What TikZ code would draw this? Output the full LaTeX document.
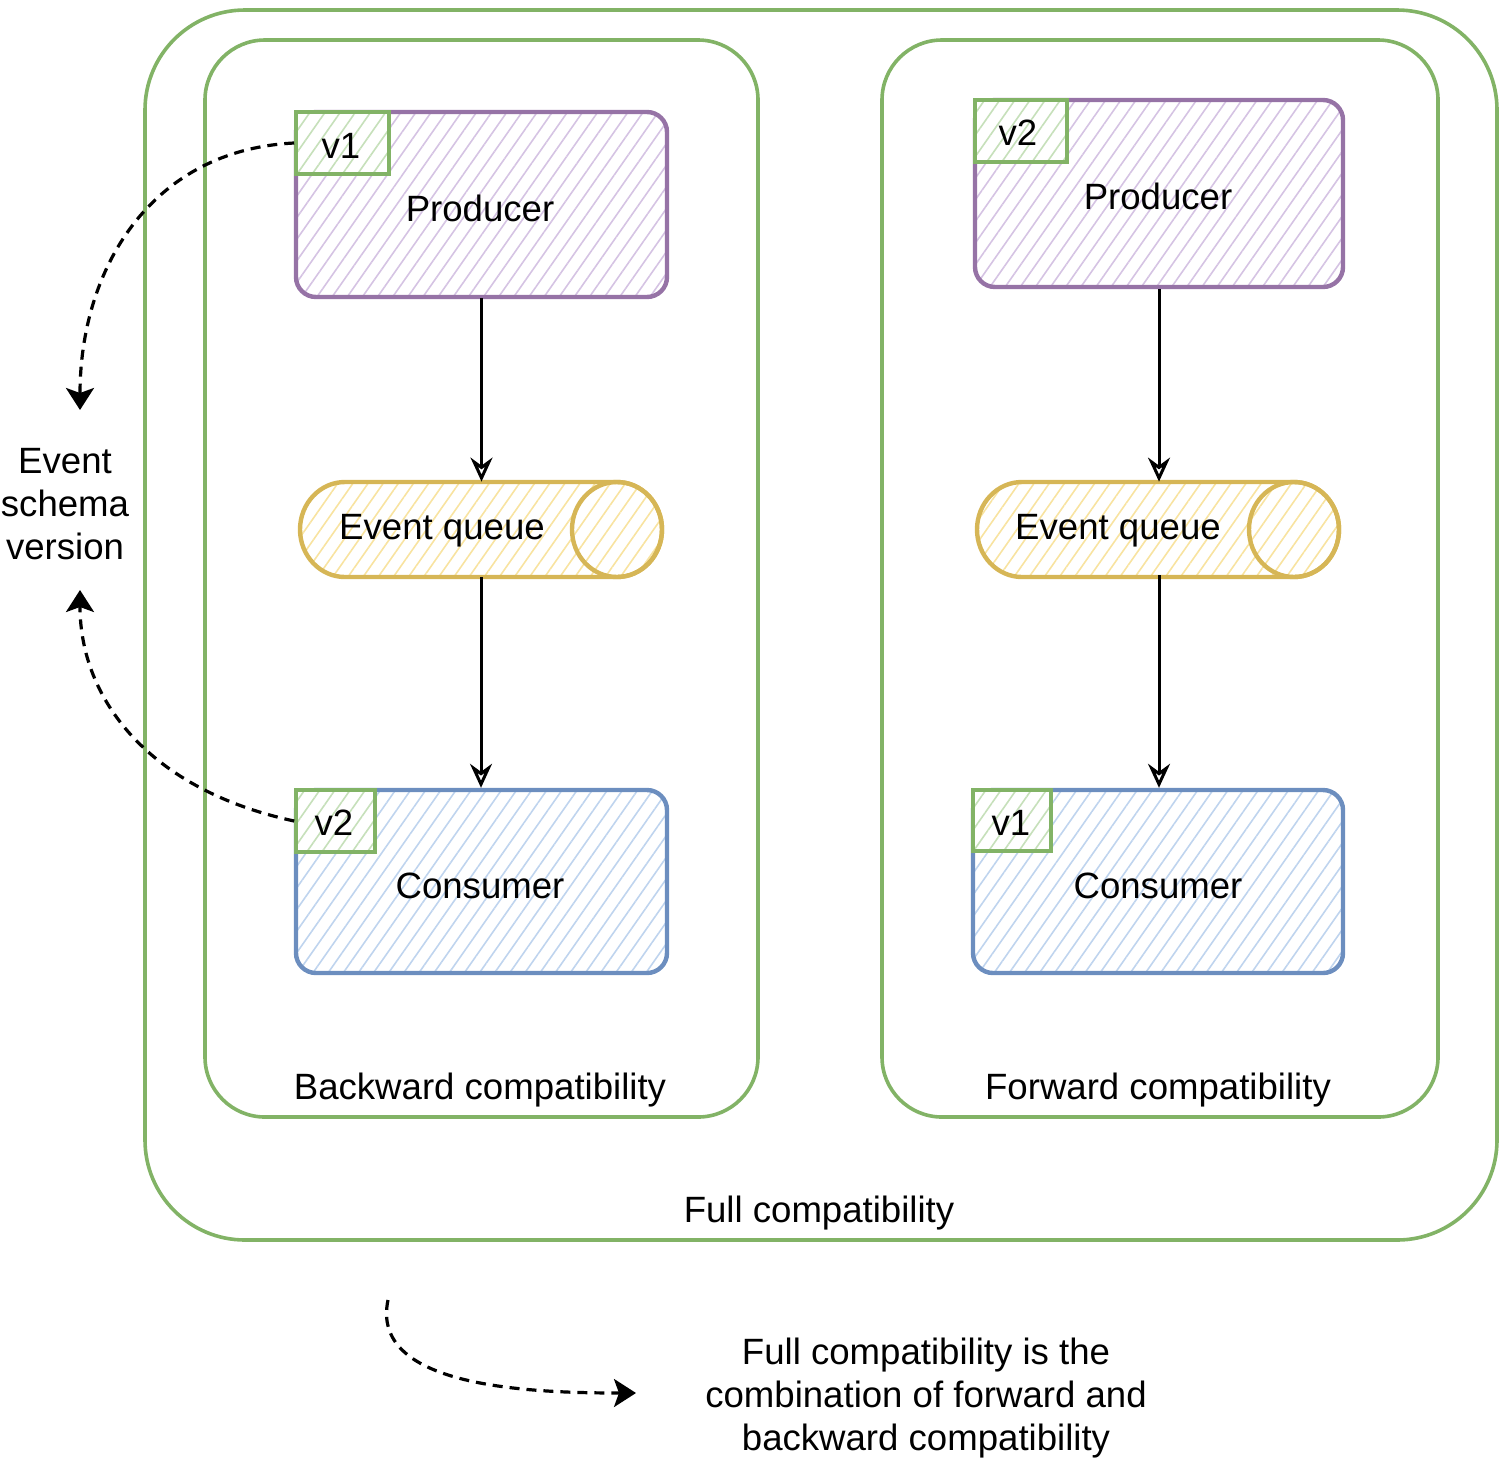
\documentclass[tikz,border=0pt]{standalone}
\usepackage{fontspec}
\setmainfont{Liberation Sans}
\usetikzlibrary{patterns.meta,arrows.meta}
\definecolor{grn}{HTML}{82B366}
\definecolor{grnh}{HTML}{C6E0BA}
\definecolor{pur}{HTML}{9673A6}
\definecolor{purh}{HTML}{D5C3E3}
\definecolor{yel}{HTML}{D6B656}
\definecolor{yelh}{HTML}{F8E3A0}
\definecolor{blu}{HTML}{6C8EBF}
\definecolor{bluh}{HTML}{BFD4EE}
\tikzset{
  txt/.style={font=\fontsize{18.3pt}{21.5pt}\selectfont, inner sep=0pt, align=center},
  grpbox/.style={draw=grn, line width=1.8pt, inner sep=0pt},
  hatch/.style={pattern={Lines[angle=55,distance=6.2pt,line width=0.8pt]}, pattern color=#1},
  probox/.style={draw=pur, line width=2.2pt, rounded corners=10pt, hatch=purh, txt},
  conbox/.style={draw=blu, line width=2.2pt, rounded corners=10pt, hatch=bluh, txt},
  verbox/.style={draw=grn, line width=1.8pt, fill=white, txt, minimum height=31pt},
  verhatch/.style={hatch=grnh, draw=grn, line width=1.8pt, inner sep=0pt},
  flow/.style={line width=1.5pt, -{Stealth[open,length=12pt,width=11pt,inset=4pt]}},
  dsh/.style={line width=1.6pt, dash pattern=on 5pt off 3.5pt, -{Stealth[length=11pt,width=14pt,inset=2.5pt]}},
}
\begin{document}
\begin{tikzpicture}[x=0.5pt,y=-0.5pt]
\useasboundingbox (0,0) rectangle (1504,1463);

% group boxes
\node[grpbox, rounded corners=50pt, minimum width=676pt, minimum height=615pt] (outer) at (821,625) {};
\node[grpbox, rounded corners=30pt, minimum width=276.5pt, minimum height=538.5pt] (leftg) at (481.5,578.5) {};
\node[grpbox, rounded corners=30pt, minimum width=278pt, minimum height=538.5pt] (rightg) at (1160,578.5) {};

% producers
\node[probox, minimum width=185.5pt, minimum height=92.5pt] (p1) at (481.5,204.5) {};
\node[txt] (p1t) at (480,208) {Producer};
\node[probox, minimum width=184pt, minimum height=93.5pt] (p2) at (1159,193.5) {};
\node[txt] (p2t) at (1158,196) {Producer};

% consumers
\node[conbox, minimum width=185.5pt, minimum height=91.5pt] (c1) at (481.5,881.5) {};
\node[txt] (c1t) at (480,886) {Consumer};
\node[conbox, minimum width=185pt, minimum height=91.5pt] (c2) at (1158,881.5) {};
\node[txt] (c2t) at (1158,886) {Consumer};

% version boxes
\node[verbox, minimum width=46.5pt] (v1a) at (342.5,143) {};
\node[verhatch, minimum width=46.5pt, minimum height=31pt] at (342.5,143) {};
\node[txt] (v1at) at (341,146) {v1};
\node[verbox, minimum width=39.5pt] (v2a) at (335.5,821) {};
\node[verhatch, minimum width=39.5pt, minimum height=31pt] at (335.5,821) {};
\node[txt] (v2at) at (334,823) {v2};
\node[verbox, minimum width=46pt] (v2b) at (1021,131) {};
\node[verhatch, minimum width=46pt, minimum height=31pt] at (1021,131) {};
\node[txt] (v2bt) at (1018,133) {v2};
\node[verbox, minimum width=39pt] (v1b) at (1012,820.5) {};
\node[verhatch, minimum width=39pt, minimum height=30.5pt] at (1012,820.5) {};
\node[txt] (v1bt) at (1011,823) {v1};

% event queues
\foreach \xl/\xr in {300/662, 977/1339}{
  \pgfmathsetmacro{\a}{\xl+45}
  \pgfmathsetmacro{\b}{\xr-45}
  \draw[draw=yel, line width=2.2pt, hatch=yelh]
    (\a,482) -- (\b,482) arc[start angle=270, end angle=450, x radius=45, y radius=47.5]
    -- (\a,577) arc[start angle=90, end angle=270, x radius=45, y radius=47.5] -- cycle;
  \draw[draw=yel, line width=2.2pt] (\b,529.5) ellipse[x radius=45, y radius=47.5];
}
\node[minimum width=181pt, minimum height=47.5pt, inner sep=0pt] (q1) at (481,529.5) {};
\node[txt] (q1t) at (442,531) {Event queue};
\node[minimum width=181pt, minimum height=46.5pt, inner sep=0pt] (q2) at (1158,528.5) {};
\node[txt] (q2t) at (1118,531) {Event queue};

% flow arrows
\draw[flow] (p1.south) -- (p1.south |- q1.north);
\draw[flow] (q1.south) -- (q1.south |- c1.north);
\draw[flow] (p2.south) -- (p2.south |- q2.north);
\draw[flow] (q2.south -| p2.south) -- (p2.south |- c2.north);

% labels
\node[txt] (lb1) at (480,1090) {Backward compatibility};
\node[txt] (lb2) at (1158,1090) {Forward compatibility};
\node[txt] (lb3) at (819,1213) {Full compatibility};
\node[txt] (esv) at (65,504) {Event\\schema\\version};
\node[txt] (note) at (926,1398) {Full compatibility is the\\combination of forward and\\backward compatibility};

% dashed arrows
\coordinate (a1) at (80,410);
\coordinate (a2) at (80,590);
\coordinate (b1) at (388,1300);
\coordinate (b2) at (636,1393);
\draw[dsh] (v1a.west) .. controls (150,150) and (80,270) .. (a1);
\draw[dsh] (v2a.west) .. controls (150,790) and (80,700) .. (a2);
\draw[dsh] (b1) .. controls (370,1385) and (520,1393) .. (b2);
\end{tikzpicture}
\end{document}
